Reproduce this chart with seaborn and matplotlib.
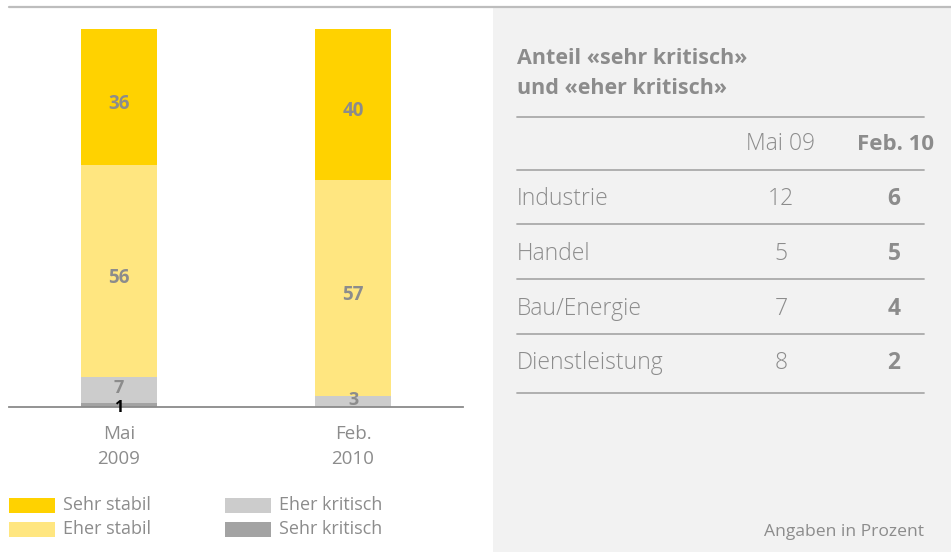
import matplotlib
matplotlib.use("Agg")
import matplotlib.pyplot as plt
import seaborn as sns
import pandas as pd
import numpy as np
from matplotlib.lines import Line2D
from matplotlib.patches import Rectangle

# data
periods = ["Mai\n2009", "Feb.\n2010"]
sehr_kritisch = [1, 0]
eher_kritisch = [7, 3]
eher_stabil = [56, 57]
sehr_stabil = [36, 40]

series_names = ["Sehr stabil", "Eher stabil", "Eher kritisch", "Sehr kritisch"]
series_colors = ["#FFD200", "#FFE680", "#CCCCCC", "#A3A3A3"]

branchen = ["Industrie", "Handel", "Bau/Energie", "Dienstleistung"]
mai09 = [12, 5, 7, 8]
feb10 = [6, 5, 4, 2]

sns.set_theme(style="white")
plt.rcParams['font.family'] = ['Open Sans', 'DejaVu Sans']
grey_txt = "#8C8C8C"

fig = plt.figure(figsize=(9.51, 5.52), dpi=100)
W, H = 951, 552

# top rule
fig.add_artist(Line2D([9 / W, 1], [1 - 7 / H, 1 - 7 / H], color="#BDBDBD", lw=1.6))

# right grey panel
pan = fig.add_axes([493 / W, 0, 458 / W, 544 / H])
pan.set_facecolor("#F2F2F2")
pan.set_xlim(493, 951)
pan.set_ylim(552, 8)
pan.set_xticks([])
pan.set_yticks([])
for s in pan.spines.values():
    s.set_visible(False)

pan.text(517, 59, "Anteil «sehr kritisch»", fontsize=15.5, fontweight="bold",
         color=grey_txt, va="center", ha="left")
pan.text(517, 89, "und «eher kritisch»", fontsize=15.5, fontweight="bold",
         color=grey_txt, va="center", ha="left")
for yy in [117, 170, 224, 279, 334, 393]:
    pan.plot([517, 924], [yy, yy], color="#AAAAAA", lw=1.3)
pan.text(781, 144, "Mai 09", fontsize=16.5, color=grey_txt, ha="center", va="center",
         fontweight="light")
pan.text(934, 144, "Feb. 10", fontsize=16, color=grey_txt, ha="right", va="center",
         fontweight="bold")
row_y = [199, 254, 309, 363]
for name, a, b, yy in zip(branchen, mai09, feb10, row_y):
    pan.text(517, yy, name, fontsize=16.5, color=grey_txt, ha="left", va="center",
             fontweight="light")
    pan.text(781, yy, str(a), fontsize=16.5, color=grey_txt, ha="center", va="center",
             fontweight="light")
    pan.text(894, yy, str(b), fontsize=16.5, color=grey_txt, ha="center", va="center",
             fontweight="bold")
pan.text(924, 532, "Angaben in Prozent", fontsize=12.6, color=grey_txt, ha="right",
         va="center")

# stacked bar chart
ax = fig.add_axes([9 / W, (H - 407) / H, 454 / W, 378 / H])
df = pd.DataFrame({"period": periods, "Sehr kritisch": sehr_kritisch,
                   "Eher kritisch": eher_kritisch, "Eher stabil": eher_stabil,
                   "Sehr stabil": sehr_stabil})

bottom = np.zeros(len(periods))
for name in ["Sehr kritisch", "Eher kritisch", "Eher stabil", "Sehr stabil"]:
    col = series_colors[series_names.index(name)]
    sns.barplot(data=df, x="period", y=name, color=col, width=0.325,
                bottom=bottom, ax=ax, saturation=1, linewidth=0, errorbar=None)
    vals = df[name].values
    for i, v in enumerate(vals):
        if v == 0:
            continue
        if name == "Sehr kritisch":
            # tiny segment: label hangs from the baseline, in black
            ax.text(i, bottom[i] + v * 1.8, str(v), ha="center", va="top",
                    fontsize=11.5, fontweight="bold", color="black")
        elif v < 10:
            ax.text(i, bottom[i] + v / 2 + 0.4, str(v), ha="center", va="center",
                    fontsize=13, fontweight="bold", color=grey_txt)
        else:
            ax.text(i, bottom[i] + v / 2 - 1.8, str(v), ha="center", va="center",
                    fontsize=13.5, fontweight="bold", color=grey_txt)
    bottom = bottom + vals

ax.set_xlim(-0.47, 1.47)
ax.set_ylim(0, 100)
ax.set_xlabel("")
ax.set_ylabel("")
ax.set_yticks([])
ax.tick_params(axis="x", length=0, pad=13, labelsize=13.5, labelcolor=grey_txt)
for lab in ax.get_xticklabels():
    lab.set_linespacing(1.5)
for s in ["top", "right", "left"]:
    ax.spines[s].set_visible(False)
ax.spines["bottom"].set_color("#8A8A8A")
ax.spines["bottom"].set_linewidth(1.3)
ax.patch.set_alpha(0)

# legend
leg_pos = [(9, 498, 0), (9, 522, 1), (225, 498, 2), (225, 522, 3)]
for px, py, k in leg_pos:
    fig.add_artist(Rectangle((px / W, 1 - (py + 15) / H), 46 / W, 15 / H,
                             transform=fig.transFigure, color=series_colors[k], lw=0))
    fig.text((px + 54) / W, 1 - (py + 7.5) / H, series_names[k], fontsize=13,
             color=grey_txt, ha="left", va="center")

fig.savefig("out.png", dpi=100)
